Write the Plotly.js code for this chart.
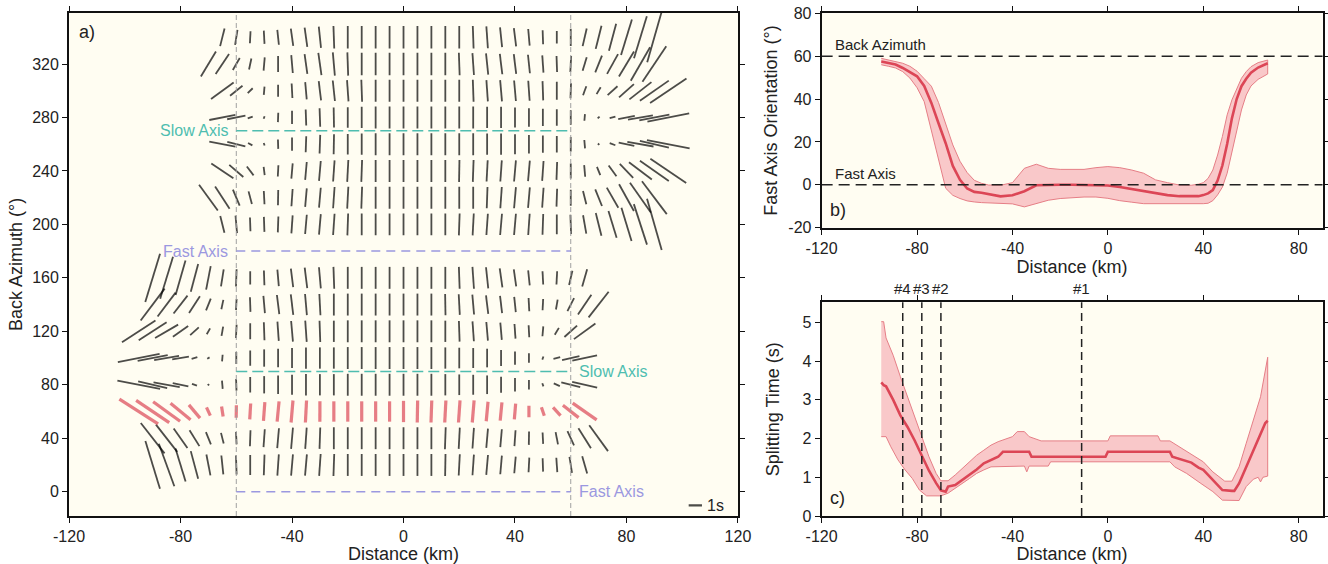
<!DOCTYPE html>
<html><head><meta charset="utf-8">
<script src="https://cdn.plot.ly/plotly-3.0.1.min.js"></script>
<style>html,body{margin:0;padding:0;background:#fff}#plot{width:1328px;height:564px}</style>
</head><body><div id="plot"></div>
<script>
const _ = null;
// ---------- Panel a: stick grid ----------
const distances = [-95,-90,-85,-80,-75,-70,-65,-60,-55,-50,-45,-40,-35,-30,-25,-20,-15,-10,-5,0,5,10,15,20,25,30,35,40,45,50,55,60,65,70,75,80,85,90,95];
// apparent fast-axis orientation (deg) and splitting time (s) per back azimuth row
const phi_020 = [_,17,20,17,15,11,6,2,0,-2, -4,-5,-5,-4,-2,0,0,0,0,0, 0,0,-1,-3,-4,-5,-5,-5,-3,2, 4,9,16,_,_,_,_,_,_];
const dt_020  = [_,3.75,3.4,2.6,2.15,1.6,1.43,1.43,1.5,1.55, 1.6,1.6,1.6,1.65,1.65,1.65,1.65,1.65,1.65,1.65, 1.65,1.65,1.65,1.6,1.55,1.5,1.4,1.25,1.1,1.0, 1.08,1.22,1.35,_,_,_,_,_,_];
const phi_040 = [_,38,38,35,32,22,14,3,-2,-4, -5,-5,-4,-2,0,0,0,0,0,0, 0,0,-2,-3,-4,-5,-5,-4,-1,3, 11,25,32,36,_,_,_,_,_];
const dt_040  = [_,2.9,2.6,1.8,1.4,1.0,0.83,0.93,1.2,1.35, 1.5,1.6,1.6,1.6,1.65,1.65,1.65,1.65,1.65,1.65, 1.65,1.65,1.65,1.6,1.55,1.45,1.35,1.2,1.0,0.85, 0.94,1.17,1.78,2.4,_,_,_,_,_];
const phi_060 = [57.5,56,54,50.6,40,25,8.8,-1,-3.4,-4.3, -5.4,-4.9,-3,-0.2,0,0,0,0,0,0, -1,-2,-3,-4,-4.8,-5.3,-5.5,-4.8,0,19, 42,52,55,_,_,_,_,_,_];
const dt_060  = [3.45,3.0,2.5,1.95,1.3,0.68,0.76,0.93,1.2,1.4, 1.53,1.66,1.66,1.53,1.53,1.53,1.53,1.53,1.53,1.6, 1.66,1.66,1.66,1.66,1.66,1.47,1.38,1.19,0.85,0.67, 0.84,1.5,2.2,_,_,_,_,_,_];
const phi_080 = [79,77,80,78,70,45,5,2,0,0, 0,0,0,0,0,0,0,0,0,0, 0,0,0,0,0,0,0,0,0,20, 66,76,77,_,_,_,_,_,_];
const dt_080  = [3.27,2.24,2.0,1.2,0.4,0.15,0.63,0.88,1.15,1.3, 1.4,1.5,1.6,1.6,1.6,1.65,1.65,1.65,1.65,1.65, 1.65,1.65,1.6,1.55,1.5,1.4,1.2,1.0,0.7,0.25, 0.5,1.47,1.93,_,_,_,_,_,_];
const phi_100 = [-79,-79,-80,-81,-73,-60,-5,0,0,0, 0,0,0,0,0,0,0,0,0,0, 0,0,0,0,0,0,0,0,0,-20, -76,-77,-78,_,_,_,_,_,_];
const dt_100  = [3.2,2.3,1.9,1.27,0.45,0.2,0.5,0.9,1.15,1.3, 1.4,1.5,1.6,1.6,1.6,1.65,1.65,1.65,1.65,1.65, 1.65,1.65,1.6,1.55,1.5,1.4,1.2,1.0,0.7,0.25, 0.52,1.34,1.9,_,_,_,_,_,_];
const phi_120 = [-57,-57,-60,-55,-48,-30,-10,-3,0,2, 4,5,4,2,0,0,0,0,0,0, 0,0,0,2,4,5,5,4,3,-5, -31,-48,-54,_,_,_,_,_,_];
const dt_120  = [3.0,2.5,2.0,1.4,0.87,0.5,0.7,1.0,1.2,1.35, 1.45,1.55,1.6,1.6,1.6,1.65,1.65,1.65,1.65,1.65, 1.65,1.65,1.6,1.55,1.5,1.4,1.3,1.1,0.9,0.75, 0.6,1.28,2.0,_,_,_,_,_,_];
const phi_140 = [_,-37,-37,-38,-33,-22,-12,-3,2,5, 7,7,5,3,0,0,0,0,0,0, 0,0,1,3,5,7,7,6,3,-3, -10,-27,-34,-38,_,_,_,_,_];
const dt_140  = [_,3.0,2.25,1.7,1.5,0.95,0.72,0.83,1.1,1.3, 1.45,1.55,1.6,1.6,1.65,1.65,1.65,1.65,1.65,1.65, 1.65,1.65,1.6,1.55,1.5,1.4,1.3,1.15,1.0,0.85, 0.75,1.1,1.8,2.45,_,_,_,_,_];
const phi_160 = [_,-17,-17,-16,-15,-11,-9,-2,0,2, 5,7,7,5,2,0,0,0,0,0, 0,0,0,2,4,6,8,8,6,3, -3,-13,-16,_,_,_,_,_,_];
const dt_160  = [_,3.8,3.3,2.7,2.15,1.8,1.3,1.3,1.0,1.1, 1.25,1.4,1.55,1.6,1.65,1.65,1.65,1.65,1.65,1.65, 1.65,1.65,1.65,1.65,1.65,1.6,1.45,1.3,1.13,1.0, 1.0,1.1,1.35,_,_,_,_,_,_];
const phi_200 = [_,_,_,_,_,_,14,5,2,2, -2,-4,-5,-5,-4,-2,0,0,0,0, 0,0,0,-2,-3,-4,-5,-5,-4,-2, 0,2,10,14,17,17,18,16,_];
const dt_200  = [_,_,_,_,_,_,1.3,1.33,1.03,1.13, 1.2,1.35,1.45,1.55,1.6,1.65,1.65,1.65,1.65,1.65, 1.65,1.65,1.65,1.65,1.65,1.6,1.6,1.6,1.6,1.55, 1.5,1.45,1.4,1.76,2.1,2.6,3.2,4.0,_];
const phi_220 = [_,_,_,_,_,36,33,23,15,3, -1,-4,-5,-5,-4,-3,-2,0,0,0, 0,0,0,0,0,-2,-4,-5,-5,-4, -2,0,14,22,30,29,35,37,_];
const dt_220  = [_,_,_,_,_,2.4,2.0,1.3,0.98,1.0, 1.15,1.3,1.4,1.5,1.6,1.65,1.65,1.65,1.65,1.65, 1.65,1.65,1.65,1.65,1.65,1.6,1.6,1.6,1.55,1.5, 1.35,1.2,1.03,1.35,1.74,2.3,2.74,3.1,_];
const phi_240 = [_,_,_,_,_,_,56,49,37,7, -3,-5,-5,-5,-4,-3,-2,0,0,0, 0,0,0,-1,-2,-3,-4,-5,-5,-4, -2,0,5,22,36,44,53,55,56];
const dt_240  = [_,_,_,_,_,_,2.0,1.4,0.84,0.63, 0.85,1.15,1.35,1.5,1.6,1.65,1.65,1.65,1.65,1.65, 1.65,1.65,1.65,1.65,1.65,1.6,1.6,1.6,1.55,1.5, 1.35,1.13,0.88,0.67,1.0,1.45,2.15,2.65,3.25];
const phi_260 = [_,_,_,_,_,_,79,76,62,20, 2,0,-2,-2,-1,0,0,0,0,0, 0,0,0,0,0,0,0,0,0,0, 0,0,5,45,70,78,80,77,79];
const dt_260  = [_,_,_,_,_,_,2.0,1.4,0.37,0.2, 0.7,1.0,1.2,1.4,1.5,1.55,1.6,1.65,1.65,1.65, 1.65,1.65,1.65,1.65,1.65,1.6,1.6,1.5,1.4,1.3, 1.25,1.1,0.63,0.15,0.45,1.2,2.0,2.24,3.27];
const phi_280 = [_,_,_,_,_,_,-79,-79,-70,-20, -2,0,2,2,1,0,0,0,0,0, 0,0,0,0,0,0,0,0,0,0, 0,0,-5,-45,-75,-79,-80,-79,-79];
const dt_280  = [_,_,_,_,_,_,2.0,1.4,0.4,0.2, 0.7,1.0,1.2,1.4,1.5,1.55,1.6,1.65,1.65,1.65, 1.65,1.65,1.65,1.65,1.65,1.6,1.6,1.5,1.4,1.3, 1.25,1.1,0.5,0.2,0.45,1.27,1.9,2.3,3.2];
const phi_300 = [_,_,_,_,_,_,-54,-51,-45,-5, 0,3,5,7,6,4,2,0,0,0, 0,0,0,0,2,4,5,5,4,2, 0,-2,-20,-31,-48,-48,-52,-55,-56];
const dt_300  = [_,_,_,_,_,_,2.1,1.2,0.53,0.63, 0.9,1.1,1.3,1.45,1.55,1.6,1.65,1.65,1.65,1.65, 1.65,1.65,1.65,1.65,1.65,1.6,1.6,1.55,1.5,1.45, 1.35,1.13,0.72,0.6,1.0,1.5,2.1,2.65,3.3];
const phi_320 = [_,_,_,_,_,-31,-34,-30,-12,-5, 0,5,8,8,5,2,0,0,0,0, 0,0,0,2,4,6,7,7,6,4, 2,-3,-17,-22,-29,-31,-30,-34,_];
const dt_320  = [_,_,_,_,_,2.2,1.8,1.04,0.85,1.0, 1.2,1.35,1.5,1.7,1.75,1.75,1.7,1.7,1.7,1.7, 1.7,1.7,1.7,1.7,1.65,1.6,1.55,1.5,1.4,1.3, 1.2,1.2,1.05,1.35,1.7,2.2,2.9,3.2,_];
const phi_340 = [_,_,_,_,_,_,-14,-9,-3,3, 6,8,8,6,2,0,0,0,0,0, 0,0,0,0,2,4,6,7,5,2, 0,0,-13,-14,-15,-17,-17,-16,_];
const dt_340  = [_,_,_,_,_,_,1.37,1.14,0.9,1.0, 1.13,1.3,1.45,1.6,1.7,1.7,1.7,1.7,1.7,1.7, 1.7,1.7,1.7,1.7,1.7,1.65,1.5,1.38,1.25,1.05, 0.95,1.3,1.36,1.8,2.1,2.8,3.3,3.9,_];

const blackRows = [[20,phi_020,dt_020],[40,phi_040,dt_040],[80,phi_080,dt_080],[100,phi_100,dt_100],
  [120,phi_120,dt_120],[140,phi_140,dt_140],[160,phi_160,dt_160],[200,phi_200,dt_200],[220,phi_220,dt_220],
  [240,phi_240,dt_240],[260,phi_260,dt_260],[280,phi_280,dt_280],[300,phi_300,dt_300],[320,phi_320,dt_320],[340,phi_340,dt_340]];
const redRow = [60, phi_060, dt_060];

const axisMarks_a = [{baz:270,label:'Slow Axis',kind:'slow',side:'left'},{baz:180,label:'Fast Axis',kind:'fast',side:'left'},
                     {baz:90,label:'Slow Axis',kind:'slow',side:'right'},{baz:0,label:'Fast Axis',kind:'fast',side:'right'}];
const scaleBarSeconds = 1;

// ---------- Panel b: fast axis orientation for BAZ 60 ----------
const b_dist = [-95,-92,-89,-86,-83,-80,-77,-74,-71,-68,-65,-62,-59,-56,-53,-50,-45,-40,-35,-30,-25,-20,-15,-10,-5,0,5,10,15,20,25,30,35,38,40,42,44,46,48,50,52,54,56,58,60,63,67];
const b_phi  = [57.5,56.8,56.1,54.5,52.5,50.6,46.1,38.2,28.7,19.4,8.8,2.3,-1.7,-3.3,-3.7,-4.3,-5.4,-4.9,-3.0,-0.2,0,0,0,0,0,-0.3,-1.0,-2.0,-3.0,-4.0,-4.8,-5.3,-5.5,-5.3,-4.8,-4.0,-2.5,2.0,9.0,19.0,31,40,46,49.5,52.3,54.7,56.7];
const b_high = [59,58.2,57.5,56.7,55.3,53,49.5,46,38.4,28.4,18.6,11,5.7,2.1,0.7,-0.1,-0.2,1.0,7.7,9.6,7.7,7.2,7.2,7.2,8.0,8.5,8.0,6.9,5.4,2.3,1.0,-0.1,-0.2,0.3,1.0,3.0,6.9,13.9,22.5,32.6,39.6,45,49.7,52.8,55.1,57,58.2];
const b_low  = [56,55.3,54.5,52.8,49.8,45.3,38.8,25.6,11.6,-1.6,-4.9,-6.4,-7.5,-8,-8.3,-8.6,-8.8,-8.9,-10.3,-8.6,-7.2,-6.4,-6,-5.7,-5.7,-6.3,-7.4,-8.1,-8.8,-8.8,-8.8,-8.8,-8.8,-8.8,-8.8,-8.6,-7.4,-4.7,-1.1,5.4,14.4,24.8,34.9,41.9,46.1,49.2,51.7];
const b_refLines = [{value:60,label:'Back Azimuth'},{value:0,label:'Fast Axis'}];

// ---------- Panel c: splitting time for BAZ 60 ----------
const c_dist = [-95,-94,-93,-90,-87,-84,-81,-78,-75,-72,-70,-68,-67,-64,-61,-58,-55,-52,-49,-46,-44,-33,-32,-1,0,26,27,30,35,38,40,42,44,46,48,52,53,55,58,61,64,66,67];
const c_dt   = [3.45,3.38,3.35,3.0,2.6,2.3,1.95,1.55,1.17,0.85,0.66,0.63,0.76,0.80,0.93,1.06,1.2,1.36,1.45,1.53,1.66,1.66,1.53,1.53,1.66,1.66,1.53,1.47,1.38,1.25,1.19,1.06,0.93,0.80,0.67,0.65,0.65,0.84,1.27,1.70,2.13,2.4,2.46];
const c_high_dist = [-95,-94,-93,-90,-87,-84,-81,-78,-75,-72,-70,-67,-64,-61,-58,-55,-52,-49,-46,-40,-38,-35,-33,-28,0,1,21,22,26,30,34,40,44,49,52,55,58,61,64,67];
const c_high = [5.02,5.02,4.6,4.15,3.6,3.1,2.56,2.05,1.53,1.1,0.91,0.91,1.06,1.23,1.40,1.57,1.70,1.83,1.92,2.05,2.18,2.18,2.05,1.94,1.94,2.07,2.07,1.94,1.94,1.79,1.62,1.40,1.14,0.90,0.90,1.27,1.88,2.48,3.08,4.1];
const c_low_dist = [-95,-93,-91,-88,-85,-82,-79,-76,-70,-67,-64,-61,-58,-55,-52,-49,-35,-34,-33,-25,-24,26,28,33,39,44,48,55,58,61,63,64,65,67];
const c_low = [2.05,2.05,1.79,1.45,1.19,0.97,0.67,0.52,0.52,0.59,0.71,0.84,0.97,1.10,1.19,1.27,1.29,1.14,1.29,1.29,1.40,1.40,1.27,1.10,0.84,0.63,0.41,0.40,0.76,0.95,1.0,0.88,1.0,1.03];
const c_events = [{dist:-86,label:'#4'},{dist:-78,label:'#3'},{dist:-70,label:'#2'},{dist:-11,label:'#1'}];

// ---------- Tick labels ----------
const ticks_a_x = [-120,-80,-40,0,40,80,120];
const ticks_a_y = [0,40,80,120,160,200,240,280,320];
const ticks_bc_x = [-120,-80,-40,0,40,80];
const ticks_b_y = [-20,0,20,40,60,80];
const ticks_c_y = [0,1,2,3,4,5];

// ---------- Styling ----------
const FONT = 'Liberation Sans, Arial, Helvetica, sans-serif';
const PX_PER_SECOND = 13.3;      // stick length per second of splitting
const SYMBOL_SCALE = 1.4;        // plotly line symbol: full length = 1.4 * size
const RED = '#dc4656';
const TEAL = '#4fbdb0';
const LAVENDER = '#9b98e0';
const BG = '#fffdf2';

function sticks(rows, color, width, xa, ya) {
  const x = [], y = [], size = [], angle = [];
  rows.forEach(([baz, phi, dt]) => {
    distances.forEach((d, i) => {
      if (dt[i] === null || phi[i] === null) return;
      x.push(d); y.push(baz);
      size.push(dt[i] * PX_PER_SECOND / SYMBOL_SCALE);
      angle.push(-phi[i]);
    });
  });
  return {type:'scatter', mode:'markers', x, y, xaxis:xa, yaxis:ya, hoverinfo:'skip', showlegend:false,
    marker:{symbol:'line-ns-open', size, angle, color, line:{width, color}}};
}

const traces = [];
traces.push(sticks(blackRows, '#000', 1.8, 'x', 'y'));
traces.push(sticks([redRow], RED, 3.2, 'x', 'y'));
traces.push({type:'scatter', mode:'markers', x:[104.7], y:[-10.2], xaxis:'x', yaxis:'y', hoverinfo:'skip', showlegend:false,
  marker:{symbol:'line-ns-open', size:[scaleBarSeconds*PX_PER_SECOND/SYMBOL_SCALE], angle:[90], color:'#000', line:{width:2.2,color:'#000'}}});

traces.push({type:'scatter', mode:'lines', x:b_dist.concat(b_dist.slice().reverse()), y:b_high.concat(b_low.slice().reverse()),
  fill:'toself', fillcolor:'rgba(248,190,194,0.85)', line:{color:'#e57e86', width:1}, xaxis:'x2', yaxis:'y2', hoverinfo:'skip', showlegend:false});
traces.push({type:'scatter', mode:'lines', x:b_dist, y:b_phi, line:{color:RED, width:2.6}, xaxis:'x2', yaxis:'y2', hoverinfo:'skip', showlegend:false});
traces.push({type:'scatter', mode:'lines', x:c_high_dist.concat(c_low_dist.slice().reverse()), y:c_high.concat(c_low.slice().reverse()),
  fill:'toself', fillcolor:'rgba(248,190,194,0.85)', line:{color:'#e57e86', width:1}, xaxis:'x3', yaxis:'y3', hoverinfo:'skip', showlegend:false});
traces.push({type:'scatter', mode:'lines', x:c_dist, y:c_dt, line:{color:RED, width:2.6}, xaxis:'x3', yaxis:'y3', hoverinfo:'skip', showlegend:false});

function axis(extra, tickvals, titleText, standoff) {
  return Object.assign({
    showline:true, linewidth:2, linecolor:'#111', mirror:'ticks', ticks:'outside', ticklen:5, tickwidth:1, tickcolor:'#111',
    showgrid:false, zeroline:false, tickvals, ticktext:tickvals.map(String),
    tickfont:{family:FONT, size:16, color:'#222'},
    title:{text:titleText, font:{family:FONT, size:18, color:'#222'}, standoff:standoff}
  }, extra);
}

const shapes = [];
const annotations = [];
[-60, 60].forEach(v => shapes.push({type:'line', xref:'x', yref:'y domain', x0:v, x1:v, y0:0, y1:1,
  line:{color:'#a0a0a0', width:1, dash:'5px,3px'}}));
axisMarks_a.forEach(m => {
  const col = m.kind === 'slow' ? TEAL : LAVENDER;
  shapes.push({type:'line', xref:'x', yref:'y', x0:-60, x1:60, y0:m.baz, y1:m.baz,
    line:{color:col, width:1.5, dash: m.kind === 'slow' ? '11px,5px' : '9px,6px'}});
  annotations.push({xref:'x', yref:'y', x: m.side === 'left' ? -62.3 : 62.2, y:m.baz,
    xanchor: m.side === 'left' ? 'right' : 'left', yanchor:'middle', text:m.label, showarrow:false,
    font:{family:FONT, size:16, color:col}});
});
annotations.push({xref:'x', yref:'y', x:108.3, y:-10.2, xanchor:'left', yanchor:'middle', text:'1s', showarrow:false,
  font:{family:FONT, size:16, color:'#222'}});
annotations.push({xref:'x domain', yref:'y domain', x:0.012, y:0.962, xanchor:'left', yanchor:'middle', text:'a)', showarrow:false,
  font:{family:FONT, size:18, color:'#222'}});
b_refLines.forEach(r => {
  shapes.push({type:'line', xref:'x2 domain', yref:'y2', x0:0, x1:1, y0:r.value, y1:r.value, line:{color:'#222', width:1.5, dash:'11px,6px'}});
  annotations.push({xref:'x2 domain', yref:'y2', x:0.022, y:r.value, xanchor:'left', yanchor:'bottom', yshift:1, text:r.label, showarrow:false,
    font:{family:FONT, size:15, color:'#222'}});
});
annotations.push({xref:'x2 domain', yref:'y2 domain', x:0.013, y:0.083, xanchor:'left', yanchor:'middle', text:'b)', showarrow:false,
  font:{family:FONT, size:18, color:'#222'}});
c_events.forEach(e => {
  shapes.push({type:'line', xref:'x3', yref:'y3 domain', x0:e.dist, x1:e.dist, y0:0, y1:1, line:{color:'#222', width:1.5, dash:'8px,5px'}});
  annotations.push({xref:'x3', yref:'y3 domain', x:e.dist, y:1, xanchor:'center', yanchor:'bottom', yshift:3, text:e.label, showarrow:false,
    font:{family:FONT, size:15, color:'#222'}});
});
annotations.push({xref:'x3 domain', yref:'y3 domain', x:0.013, y:0.083, xanchor:'left', yanchor:'middle', text:'c)', showarrow:false,
  font:{family:FONT, size:18, color:'#222'}});

const layout = {
  width:1328, height:564, margin:{l:0,r:0,t:0,b:0}, paper_bgcolor:'#fff', plot_bgcolor:BG,
  font:{family:FONT, color:'#222'}, showlegend:false,
  xaxis: axis({domain:[0.0520,0.5557], range:[-120,120], anchor:'y'}, ticks_a_x, 'Distance (km)', 4),
  yaxis: axis({domain:[0.0851,0.9775], range:[-18.2,358.4], anchor:'x'}, ticks_a_y, 'Back Azimuth (°)', 5),
  xaxis2: axis({domain:[0.6187,0.9959], range:[-120,90], anchor:'y2'}, ticks_bc_x, 'Distance (km)', 1),
  yaxis2: axis({domain:[0.5963,0.9764], range:[-20,80], anchor:'x2'}, ticks_b_y, 'Fast Axis Orientation (°)', 6),
  xaxis3: axis({domain:[0.6187,0.9959], range:[-120,90], anchor:'y3'}, ticks_bc_x, 'Distance (km)', 2),
  yaxis3: axis({domain:[0.0851,0.4640], range:[0,5.52], anchor:'x3'}, ticks_c_y, 'Splitting Time (s)', 18),
  shapes, annotations
};
Plotly.newPlot('plot', traces, layout, {displayModeBar:false, staticPlot:true});
</script></body></html>
